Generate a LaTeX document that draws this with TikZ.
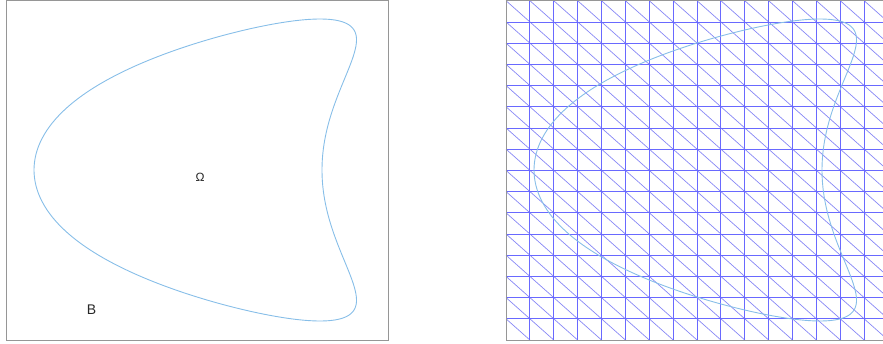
\documentclass[tikz,border=0pt]{standalone}
\usepackage{fontspec}
\setmainfont{Liberation Sans}
\begin{document}
\begin{tikzpicture}[x=1pt,y=-1pt,
  framestyle/.style={draw={rgb,255:red,150;green,150;blue,150},line width=1pt},
  curvestyle/.style={draw={rgb,255:red,135;green,190;blue,232},line width=0.9pt},
  gridline/.style={draw={rgb,255:red,105;green,105;blue,255},line width=0.8pt},
  diagline/.style={draw={rgb,255:red,135;green,135;blue,245},line width=0.7pt},
  lbl/.style={inner sep=0pt,text={rgb,255:red,40;green,40;blue,40}}]
\useasboundingbox (0,0) rectangle (883,343);
% ---------- left panel ----------
\draw[framestyle] (6,0.7) rectangle (388,340);
\draw[curvestyle] plot[domain=0:360,samples=240,smooth cycle,variable=\t]
  ({249-144*cos(\t)-71*cos(2*\t)-8*pow(sin(2*\t),2)*max(cos(\t),0)},{170-151*sin(\t)});
\node[lbl,font=\fontsize{12}{14}\selectfont] (omega) at (200,177) {Ω};
\node[lbl,font=\fontsize{14}{16}\selectfont] (bset) at (91.5,309.5) {B};
% ---------- right panel ----------
\begin{scope}
\clip (500,0) rectangle (883,343);
\foreach \i in {0,...,15}{
  \foreach \j in {0,...,15}{
    \draw[diagline] ({506+23.875*\i},{0.7+21.206*\j}) -- ({506+23.875*(\i+1)},{0.7+21.206*(\j+1)});
  }
}
\foreach \i in {0,...,16}{
  \draw[gridline] ({506+23.875*\i},0.7) -- ({506+23.875*\i},340);
  \draw[gridline] (506,{0.7+21.206*\i}) -- (888,{0.7+21.206*\i});
}
\draw[framestyle] (506,0.7) rectangle (888,340);
\draw[curvestyle,xshift=500pt] plot[domain=0:360,samples=240,smooth cycle,variable=\t]
  ({249-144*cos(\t)-71*cos(2*\t)-8*pow(sin(2*\t),2)*max(cos(\t),0)},{170-151*sin(\t)});
\end{scope}
\end{tikzpicture}
\end{document}
